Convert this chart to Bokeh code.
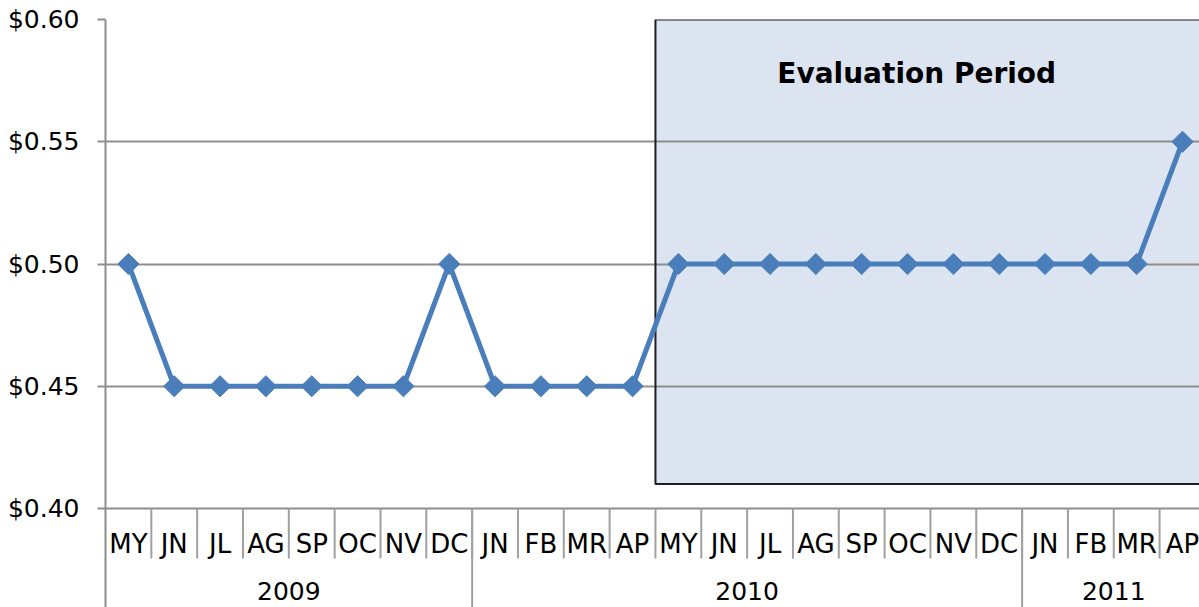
import numpy as np
from bokeh.plotting import figure
from bokeh.models import Range1d, FixedTicker, ColumnDataSource
from bokeh.core.properties import value
from bokeh.embed import file_html
from bokeh.resources import INLINE

# ---- data ----
months = ["MY", "JN", "JL", "AG", "SP", "OC", "NV", "DC",
          "JN", "FB", "MR", "AP", "MY", "JN", "JL", "AG", "SP", "OC", "NV", "DC",
          "JN", "FB", "MR", "AP"]
years = ["2009", "2010", "2011"]
months_per_year = [8, 12, 4]
prices = [0.50, 0.45, 0.45, 0.45, 0.45, 0.45, 0.45, 0.50,
          0.45, 0.45, 0.45, 0.45, 0.50, 0.50, 0.50, 0.50, 0.50, 0.50, 0.50, 0.50,
          0.50, 0.50, 0.50, 0.55]
y_ticks = [0.40, 0.45, 0.50, 0.55, 0.60]
y_tick_labels = ["$0.40", "$0.45", "$0.50", "$0.55", "$0.60"]
eval_start_index = 12
eval_bottom = 0.41
eval_label = "Evaluation Period"

# ---- layout helpers ----
W, H = 1199, 607
left_border, top_border = 105, 19
plot_px = 489                      # pixels for 0.40..0.60
ppu = plot_px / (y_ticks[-1] - y_ticks[0])
frame_h = H - top_border
y_end = y_ticks[-1]
y_start = y_end - frame_h / ppu
cell = 45.83
x_end = (W - left_border) / cell

def py(px_below_axis):
    return y_ticks[0] - px_below_axis / ppu

n = len(months)
xs = np.arange(n) + 0.5

p = figure(width=W, height=H, output_backend="svg", toolbar_location=None,
           x_range=Range1d(0, x_end), y_range=Range1d(y_start, y_end),
           x_axis_location=None, min_border_left=left_border, min_border_top=top_border,
           min_border_bottom=0, min_border_right=0)
p.outline_line_color = None
p.background_fill_color = "white"
p.xgrid.visible = False

grid_color = "#8e8e8e"
p.ygrid.ticker = FixedTicker(ticks=y_ticks)
p.ygrid.grid_line_color = grid_color
p.ygrid.grid_line_width = 2

ax = p.yaxis[0]
ax.ticker = FixedTicker(ticks=y_ticks)
ax.major_label_overrides = {t: l for t, l in zip(y_ticks, y_tick_labels)}
ax.minor_tick_line_color = None
ax.major_tick_in = 0
ax.major_tick_out = 8
ax.major_tick_line_color = grid_color
ax.major_tick_line_width = 2
ax.axis_line_color = grid_color
ax.axis_line_width = 2
ax.major_label_standoff = 18
ax.major_label_text_font = "DejaVu Sans"
ax.major_label_text_font_size = "25px"
ax.major_label_text_color = "#000000"

# evaluation box
p.quad(left=[eval_start_index], right=[n + 1], bottom=[eval_bottom], top=[y_end],
       fill_color="#dbe4f0", line_color=None, level="image")
p.quad(left=[eval_start_index], right=[n + 1], bottom=[eval_bottom], top=[y_end],
       fill_color=None, line_color="#1e1e1e", line_width=2)
p.text(x=[eval_start_index + 5.7], y=[y_end - 54 / ppu], text=[eval_label],
       text_font=value("DejaVu Sans"), text_font_style="bold", text_font_size="28px",
       text_align="center", text_baseline="middle", text_color="#000000")

# series
src = ColumnDataSource(dict(x=xs, y=prices))
p.line("x", "y", source=src, line_color="#4a7ebb", line_width=5)
p.scatter("x", "y", source=src, marker="square", angle=np.pi / 4, size=15,
          fill_color="#4a7ebb", line_color="#4a7ebb")

# category axis: month separators, month labels, year separators, year labels
sep_x = list(range(1, n))
p.segment(x0=sep_x, y0=[y_ticks[0]] * len(sep_x), x1=sep_x, y1=[py(50)] * len(sep_x),
          line_color="#a0a0a0", line_width=2)
bounds = np.cumsum([0] + months_per_year)
year_sep = [b for b in bounds[1:-1]]
p.segment(x0=year_sep, y0=[y_ticks[0]] * len(year_sep), x1=year_sep,
          y1=[y_start] * len(year_sep), line_color="#a0a0a0", line_width=2)
p.text(x=xs, y=[py(35)] * n, text=months, text_font=value("DejaVu Sans"),
       text_font_size="26px", text_align="center", text_baseline="middle",
       text_color="#000000")
year_x = [(bounds[i] + bounds[i + 1]) / 2 for i in range(len(years))]
p.text(x=year_x, y=[py(82)] * len(years), text=years, text_font=value("DejaVu Sans"),
       text_font_size="25px", text_align="center", text_baseline="middle",
       text_color="#000000")

open("out.html", "w").write(file_html(p, INLINE))
